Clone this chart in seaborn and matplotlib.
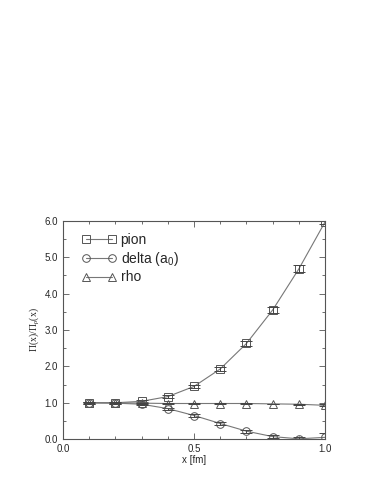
import numpy as np
import pandas as pd
import matplotlib
matplotlib.use("Agg")
import matplotlib.pyplot as plt
import seaborn as sns
from matplotlib.ticker import MultipleLocator

sns.set_style("ticks")
plt.rcParams['font.family'] = ['Liberation Sans', 'DejaVu Sans']
plt.rcParams['mathtext.fontset'] = 'custom'
plt.rcParams['mathtext.rm'] = 'Liberation Serif'
plt.rcParams['mathtext.it'] = 'Liberation Serif'

x = [0.1, 0.2, 0.3, 0.4, 0.5, 0.6, 0.7, 0.8, 0.9, 1.0]
pion = [1.00, 1.00, 1.04, 1.17, 1.45, 1.93, 2.63, 3.55, 4.68, 5.97]
pion_err = [0.02, 0.02, 0.03, 0.03, 0.04, 0.05, 0.07, 0.08, 0.10, 0.05]
delta = [1.00, 0.99, 0.96, 0.84, 0.65, 0.43, 0.22, 0.07, 0.01, 0.05]
delta_err = [0.02, 0.02, 0.03, 0.03, 0.03, 0.03, 0.04, 0.04, 0.05, 0.12]
rho = [1.00, 1.00, 0.99, 0.98, 0.98, 0.98, 0.98, 0.97, 0.96, 0.93]
rho_err = [0.01, 0.01, 0.01, 0.01, 0.01, 0.01, 0.01, 0.01, 0.02, 0.03]

series = {
    'pion': (pion, pion_err, 's'),
    r'delta (a$_\mathregular{0}$)': (delta, delta_err, 'o'),
    'rho': (rho, rho_err, '^'),
}

fig = plt.figure(figsize=(3.82, 4.94), dpi=100)
ax = fig.add_axes([0.165, 0.111, 0.686, 0.442])

for name, (vals, errs, mk) in series.items():
    df = pd.DataFrame({'x': x, 'y': vals})
    sns.lineplot(data=df, x='x', y='y', ax=ax, color='#777777', lw=0.8,
                 marker=mk, markersize=5.5, markerfacecolor='none',
                 markeredgecolor='#555555', markeredgewidth=0.7, label=name)
    ax.errorbar(x, vals, yerr=errs, fmt='none', ecolor='#444444',
                elinewidth=0.7, capsize=4, capthick=0.7)

ax.set_xlim(0.0, 1.0)
ax.set_ylim(0.0, 6.0)
ax.xaxis.set_major_locator(MultipleLocator(0.5))
ax.xaxis.set_minor_locator(MultipleLocator(0.1))
ax.yaxis.set_major_locator(MultipleLocator(1.0))
ax.yaxis.set_minor_locator(MultipleLocator(0.5))
ax.xaxis.set_major_formatter(matplotlib.ticker.FormatStrFormatter('%.1f'))
ax.yaxis.set_major_formatter(matplotlib.ticker.FormatStrFormatter('%.1f'))
ax.tick_params(which='both', direction='in', top=True, right=True,
               labelsize=7, color='#555555', width=0.6)
ax.tick_params(which='major', length=4)
ax.tick_params(which='minor', length=2)
for s in ax.spines.values():
    s.set_linewidth(0.8)
    s.set_color('#555555')

ax.set_xlabel('x [fm]', fontsize=7, labelpad=1)
ax.set_ylabel(r'$\mathrm{\Pi(x)/\Pi_\rho(x)}$', fontsize=7, labelpad=3)

leg = ax.legend(loc='upper left', frameon=False, fontsize=10, numpoints=2,
                handlelength=2.5, handletextpad=0.3, labelspacing=0.2,
                bbox_to_anchor=(0.05, 0.97), borderaxespad=0)

fig.savefig('out.png', dpi=100)
